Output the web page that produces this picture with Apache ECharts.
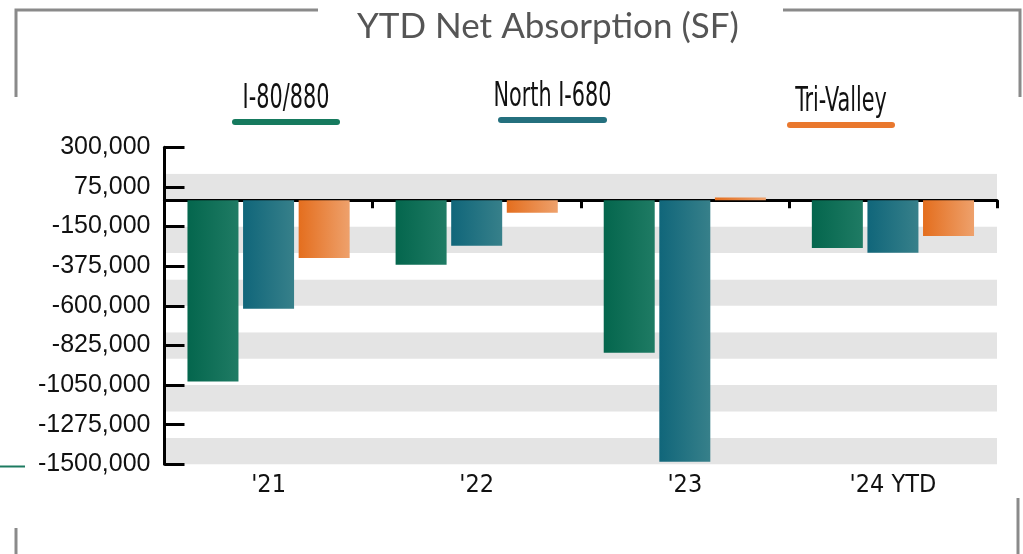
<!DOCTYPE html>
<html lang="en">
<head>
  <meta charset="UTF-8">
  <title>YTD Net Absorption (SF)</title>
  <script src="https://cdn.jsdelivr.net/npm/echarts@6/dist/echarts.min.js"></script>
  <style>
    html, body { margin: 0; padding: 0; background: #fff; }
    #chart { width: 1023px; height: 554px; }
  </style>
</head>
<body>
  <div id="chart"></div>
  <script>
    // data
    var categories = ["'21", "'22", "'23", "'24 YTD"];
    var seriesNames = ['I-80/880', 'North I-680', 'Tri-Valley'];
    var i80 = [-1030000, -367000, -867000, -272000];
    var north680 = [-617000, -259000, -1486000, -299000];
    var triValley = [-328000, -72000, 15000, -203000];
    var yTicks = [300000, 75000, -150000, -375000, -600000, -825000, -1050000, -1275000, -1500000];

    var narrow = "'Liberation Sans Narrow', 'DejaVu Sans Condensed', 'Roboto', sans-serif";

    function grad(a, b) {
      return new echarts.graphic.LinearGradient(0, 0, 1, 0, [
        { offset: 0, color: a },
        { offset: 1, color: b }
      ]);
    }
    var colors = [
      ['#04664d', '#1f7b64'],
      ['#10667a', '#37808a'],
      ['#e46e1e', '#eea16c']
    ];
    var lineColors = ['#167a5e', '#24707e', '#e9782e'];

    var chart = echarts.init(document.getElementById('chart'));

    // legend: text above a rounded bar, text squeezed to look condensed
    var legendPos = [[232, 340, 122], [498, 607, 120], [787, 895, 125]];
    var graphics = [];
    seriesNames.forEach(function (name, i) {
      var p = legendPos[i];
      var cx = (p[0] + p[1]) / 2;
      graphics.push({
        type: 'text', x: cx, y: p[2] - 23, scaleX: 0.68,
        style: { text: name, font: '34px ' + narrow, fill: '#111', align: 'center', verticalAlign: 'middle' }
      });
      graphics.push({
        type: 'rect', shape: { x: p[0], y: p[2] - 3, width: p[1] - p[0], height: 6, r: 3 },
        style: { fill: lineColors[i] }
      });
    });
    // frame lines
    var frameStyle = { stroke: '#8a8a8a', lineWidth: 3 };
    graphics.push({ type: 'polyline', shape: { points: [[16, 97], [16, 10], [318, 10]] }, style: frameStyle });
    graphics.push({ type: 'polyline', shape: { points: [[783, 10], [1020, 10], [1020, 97]] }, style: frameStyle });
    graphics.push({ type: 'line', shape: { x1: 16, y1: 528, x2: 16, y2: 554 }, style: frameStyle });
    graphics.push({ type: 'line', shape: { x1: 1018, y1: 498, x2: 1018, y2: 554 }, style: frameStyle });
    graphics.push({ type: 'line', shape: { x1: 0, y1: 466.5, x2: 25, y2: 466.5 }, style: { stroke: '#1d7a60', lineWidth: 2 } });

    var option = {
      animation: false,
      title: {
        text: 'YTD Net Absorption (SF)',
        left: 352, top: 4,
        textStyle: { fontFamily: 'Lato, sans-serif', fontWeight: 'normal', fontSize: 35, color: '#555' }
      },
      grid: { left: 164.5, right: 26, top: 147.3, bottom: 89.7 },
      xAxis: [{
        type: 'category',
        data: categories,
        axisLine: { onZero: true, lineStyle: { color: '#000', width: 3 } },
        axisTick: { show: true, length: 8, lineStyle: { color: '#000', width: 3 } },
        axisLabel: { show: false }
      }, {
        type: 'category',
        data: categories,
        position: 'bottom',
        axisLine: { show: false, onZero: false },
        axisTick: { show: false },
        axisLabel: { margin: 9, fontFamily: narrow, fontSize: 25, color: '#111' }
      }],
      yAxis: [{
        type: 'value',
        min: -1500000, max: 300000,
        axisLine: { show: true, lineStyle: { color: '#000', width: 3 } },
        axisTick: { show: true, inside: true, length: 20, customValues: yTicks, lineStyle: { color: '#000', width: 3 } },
        axisLabel: {
          customValues: yTicks, margin: 14,
          fontFamily: "'Liberation Sans', Arial, sans-serif", fontSize: 25, color: '#111',
          formatter: function (v) { return v.toLocaleString('en-US').replace('-1,', '-1'); }
        },
        splitLine: { show: false }
      }, {
        type: 'value',
        min: -1500000, max: 300000, interval: 150000,
        axisLine: { show: false }, axisTick: { show: false }, axisLabel: { show: false },
        splitLine: { show: false },
        splitArea: { show: true, areaStyle: { color: ['#e4e4e4', '#ffffff'] } }
      }],
      graphic: graphics,
      series: [i80, north680, triValley].map(function (d, i) {
        return {
          name: seriesNames[i],
          type: 'bar',
          data: d,
          barWidth: 51,
          barGap: '9%',
          itemStyle: { color: grad(colors[i][0], colors[i][1]) }
        };
      })
    };
    chart.setOption(option);
  </script>
</body>
</html>
